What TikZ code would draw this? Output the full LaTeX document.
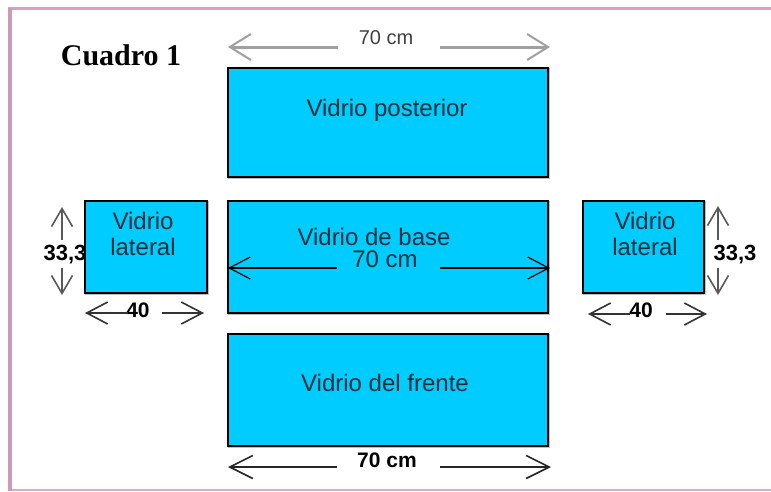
\documentclass[tikz,border=0pt]{standalone}
\usepackage{fontspec}
\setmainfont{Liberation Sans}
\newfontfamily\serifbold{Liberation Serif}
\usetikzlibrary{arrows.meta}
\definecolor{glassblue}{HTML}{00CCFF}
\definecolor{glasstext}{HTML}{06303C}
\definecolor{framepink}{HTML}{CC9AB8}
\definecolor{dimgray}{HTML}{A0A0A0}
\tikzset{
  glass/.style={draw=black, line width=2pt, fill=glassblue, inner sep=0pt, outer sep=0pt,
    preaction={draw=black!25, line width=1.5pt, transform canvas={xshift=1.2pt, yshift=-1.2pt}}},
  glasslabel/.style={text=glasstext, font=\fontsize{24}{26}\selectfont, align=center, inner sep=0pt},
  dimtop/.style={draw=dimgray, line width=3pt, -{Straight Barb[length=21pt,width=26pt,line width=2pt]}},
  dimthin/.style={draw=black, line width=1.2pt, -{Straight Barb[length=21pt,width=22pt,line width=1.2pt]}},
  dimbot/.style={draw=black!85, line width=2pt, -{Straight Barb[length=23pt,width=23pt,line width=1.6pt]}},
  dimside/.style={draw=black!80, line width=2pt, -{Straight Barb[length=21pt,width=22pt,line width=1.6pt]}},
  dimvert/.style={draw=black!65, line width=2pt, -{Straight Barb[length=18pt,width=21pt,line width=1.6pt]}},
  dimlabel/.style={inner sep=0pt, font=\fontsize{21}{23}\selectfont\bfseries},
}
\begin{document}
\begin{tikzpicture}[x=1pt, y=-1pt]
\useasboundingbox (0,0) rectangle (771,491);
% frame
\draw[draw=framepink!80, line width=1.5pt] (8,490) -- (771,490);
\draw[draw=framepink!90, line width=3pt] (8,8) -- (771,8);
\draw[draw=framepink, line width=4pt] (10,8) -- (10,491);

% title
\node[font=\serifbold\fontsize{30}{32}\selectfont\bfseries, inner sep=0pt] (title) at (121,55) {Cuadro 1};

% glass panes
\node[glass, minimum width=320pt, minimum height=109pt] (post) at (388,122.5) {};
\node[glass, minimum width=320pt, minimum height=112pt] (base) at (388,257) {};
\node[glass, minimum width=320pt, minimum height=112pt] (front) at (388,390) {};
\node[glass, minimum width=122pt, minimum height=92pt] (latl) at (146,247) {};
\node[glass, minimum width=121pt, minimum height=92pt] (latr) at (643.5,247) {};

% labels
\node[glasslabel] (tpost) at (387,110) {Vidrio posterior};
\node[glasslabel] (tbase) at (374,237) {Vidrio de base};
\node[glasslabel] (tbasedim) at (385,259) {70 cm};
\node[glasslabel] (tfront) at (385,383) {Vidrio del frente};
\node[glasslabel] (tlatl) at (143,234) {Vidrio\\lateral};
\node[glasslabel] (tlatr) at (645,234) {Vidrio\\lateral};

% top dimension
\node[inner sep=0pt, text=black!75, font=\fontsize{20}{22}\selectfont] (ttop) at (386,38) {70 cm};
\coordinate (topl0) at (338,47); \coordinate (topl1) at (228,47);
\coordinate (topr0) at (440,47); \coordinate (topr1) at (550,47);
\draw[dimtop] (topl0) -- (topl1);
\draw[dimtop] (topr0) -- (topr1);

% base dimension
\coordinate (bl0) at (337,268); \coordinate (bl1) at (228,268);
\coordinate (br0) at (440,268); \coordinate (br1) at (550,268);
\draw[dimthin] (bl0) -- (bl1);
\draw[dimthin] (br0) -- (br1);

% bottom dimension
\node[dimlabel] (tbot) at (387,460) {70 cm};
\coordinate (fl0) at (337,467); \coordinate (fl1) at (228,467);
\coordinate (fr0) at (440,467); \coordinate (fr1) at (551,467);
\draw[dimbot] (fl0) -- (fl1);
\draw[dimbot] (fr0) -- (fr1);

% left lateral dimensions
\node[dimlabel, font=\fontsize{22}{24}\selectfont\bfseries] (hl) at (65,255) {33,3};
\coordinate (hlu0) at (62,240); \coordinate (hlu1) at (62,207);
\coordinate (hld0) at (62,268); \coordinate (hld1) at (62,295);
\draw[dimvert] (hlu0) -- (hlu1);
\draw[dimvert] (hld0) -- (hld1);
\node[dimlabel] (wl) at (138,310) {40};
\coordinate (wll0) at (128,313); \coordinate (wll1) at (85,313);
\coordinate (wlr0) at (162,313); \coordinate (wlr1) at (204,313);
\draw[dimside] (wll0) -- (wll1);
\draw[dimside] (wlr0) -- (wlr1);

% right lateral dimensions
\node[dimlabel, font=\fontsize{22}{24}\selectfont\bfseries] (hr) at (735,255) {33,3};
\coordinate (hru0) at (718,240); \coordinate (hru1) at (718,206);
\coordinate (hrd0) at (718,268); \coordinate (hrd1) at (718,295);
\draw[dimvert] (hru0) -- (hru1);
\draw[dimvert] (hrd0) -- (hrd1);
\node[dimlabel] (wr) at (641,310) {40};
\coordinate (wrl0) at (630,314); \coordinate (wrl1) at (588,314);
\coordinate (wrr0) at (666,314); \coordinate (wrr1) at (707,314);
\draw[dimside] (wrl0) -- (wrl1);
\draw[dimside] (wrr0) -- (wrr1);
\end{tikzpicture}
\end{document}
